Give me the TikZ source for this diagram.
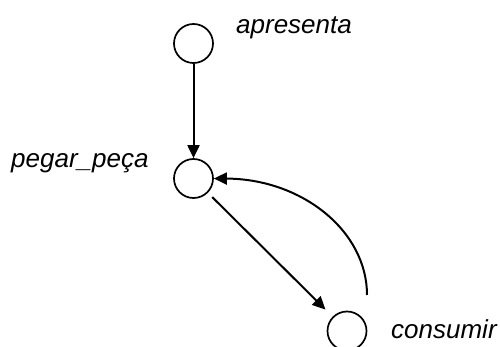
\documentclass[tikz,border=0pt]{standalone}
\usepackage{fontspec}
\setmainfont{Liberation Sans}
\usetikzlibrary{arrows.meta}
\begin{document}
\begin{tikzpicture}[x=1pt,y=-1pt,
  state/.style={circle,draw,line width=1.7pt,minimum size=39pt,inner sep=0pt},
  lbl/.style={anchor=base west,inner sep=0pt,font=\fontsize{26}{30}\selectfont\itshape},
  trans/.style={line width=2pt,-{Triangle[length=13pt,width=12pt]}}]
  \useasboundingbox (0,0) rectangle (500,347);
  \clip (0,0) rectangle (500,347);
  % states
  \node[state] (apr) at (193.5,43.5) {};
  \node[state] (peg) at (193.5,178.5) {};
  \node[state] (con) at (347,331) {};
  % state names
  \node[lbl] (tapr) at (236,34) {apresenta};
  \node[lbl] (tpeg) at (11,168) {pegar\_peça};
  \node[lbl] (tcon) at (391,338) {consumir};
  % transitions
  \draw[trans] (apr) -- (peg);
  \draw[trans,shorten <=6pt,shorten >=10pt] (peg) -- (con);
  \coordinate (ret) at (367,295);
  \draw[trans] (ret) .. controls (367,231) and (302,179) .. (peg.east);
\end{tikzpicture}
\end{document}
